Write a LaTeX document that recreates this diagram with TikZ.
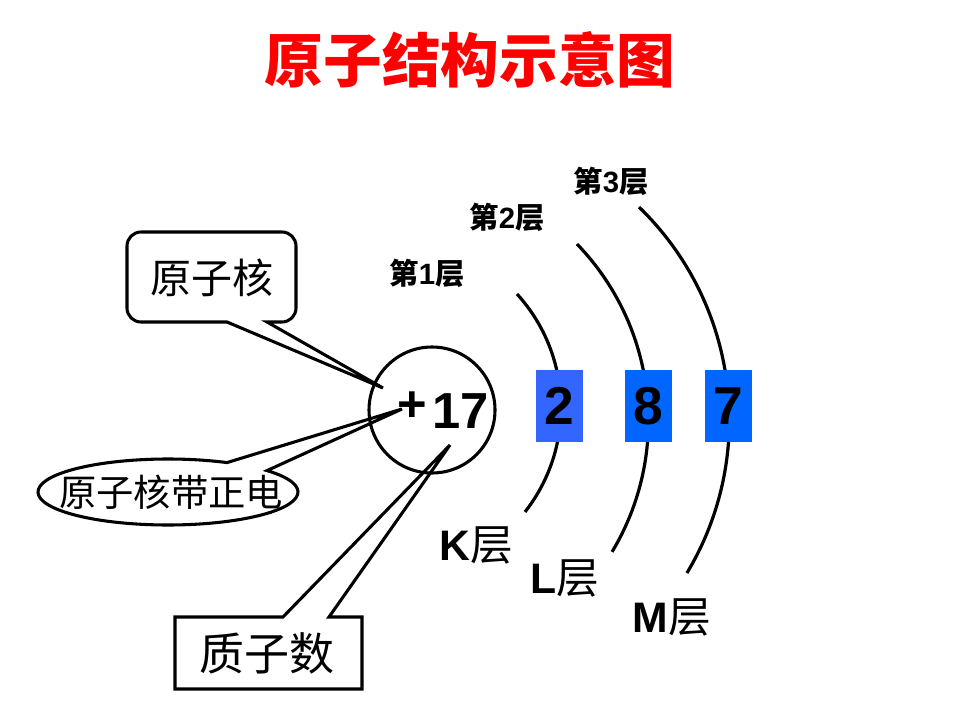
\documentclass[tikz,border=0pt]{standalone}
\usepackage{fontspec}
\setmainfont{Liberation Sans}
\newfontfamily\cjk{Noto Sans CJK SC}
\usetikzlibrary{shapes.geometric}
\definecolor{boxA}{RGB}{51,102,255}
\definecolor{boxB}{RGB}{0,102,255}
\begin{document}
\begin{tikzpicture}[x=0.75pt,y=-0.75pt, line width=2.3pt,
  shell/.style={line width=2.4pt},
  numbox/.style={minimum width=35.25pt, minimum height=54pt, inner sep=0pt, font=\bfseries\fontsize{40}{40}\selectfont},
  lay/.style={font=\cjk\bfseries\fontsize{22}{22}\selectfont, inner sep=0pt},
  shl/.style={font=\fontsize{32}{32}\selectfont, inner sep=0pt},
  callt/.style={inner sep=0pt}]
\fill[white] (0,0) rectangle (960,720);
\useasboundingbox (0,0) rectangle (960,720);

% title
\node[font=\cjk\bfseries\fontsize{44}{44}\selectfont, text=red] (title) at (470,60) {原子结构示意图};

% shells (arcs)
\draw[shell] (392.1,407.7) ++(-42.3:168.9) arc[start angle=-42.3, end angle=38.1, radius=168.9];
\draw[shell] (393.9,420.8) ++(-44.0:254.5) arc[start angle=-44.0, end angle=31.0, radius=254.5];
\draw[shell] (432.6,420.2) ++(-45.9:296.7) arc[start angle=-45.9, end angle=31.0, radius=296.7];

% electron boxes
\node[numbox, fill=boxA] (e1) at (559.5,406) {2};
\node[numbox, fill=boxB] (e2) at (648,406) {8};
\node[numbox, fill=boxB] (e3) at (728,406) {7};

% nucleus
\node[circle, draw, minimum size=94.5pt, inner sep=0pt] (nuc) at (432,410) {};
\node[font=\bfseries\fontsize{38}{38}\selectfont, inner sep=0pt] (plus) at (412,407) {+};
\node[font=\bfseries\fontsize{38}{38}\selectfont, inner sep=0pt] (z) at (461,411) {17};

% layer labels
\node[lay] (l1) at (427,273) {第{\rmfamily 1}层};
\node[lay] (l2) at (507,217) {第{\rmfamily 2}层};
\node[lay] (l3) at (611,181) {第{\rmfamily 3}层};

\node[shl] (k) at (476,545) {\bfseries K{\cjk\mdseries 层}};
\node[shl] (l) at (565,578) {\bfseries L{\cjk\mdseries 层}};
\node[shl] (m) at (672,617) {\bfseries M{\cjk\mdseries 层}};

% callout tips
\coordinate (t1) at (383,388);
\coordinate (t2) at (402,409);
\coordinate (t3) at (450,445);

% callout 1: rounded rectangle
\draw (267,322) -- (282,322) arc[start angle=90,end angle=0,radius=14]
  -- (296,246) arc[start angle=0,end angle=-90,radius=14]
  -- (141,232) arc[start angle=-90,end angle=-180,radius=14]
  -- (127,308) arc[start angle=180,end angle=90,radius=14]
  -- (227,322) -- (t1) -- cycle;
\node[callt, font=\cjk\fontsize{30.75}{31}\selectfont] (hA) at (211.5,278) {原子核};

% callout 2: ellipse
\draw (168,492) ++(-40.4:130 and 33) arc[start angle=-40.4, end angle=297, x radius=130, y radius=33] -- (t2) -- cycle;
\node[callt, font=\cjk\fontsize{28}{28}\selectfont] (hB) at (171,492) {原子核带正电};

% callout 3: rectangle
\draw (283,617) -- (175,617) -- (175,689) -- (362,689) -- (362,617) -- (329,617) -- (t3) -- cycle;
\node[callt, font=\cjk\fontsize{33.75}{34}\selectfont] (hC) at (267,653) {质子数};
\end{tikzpicture}
\end{document}
